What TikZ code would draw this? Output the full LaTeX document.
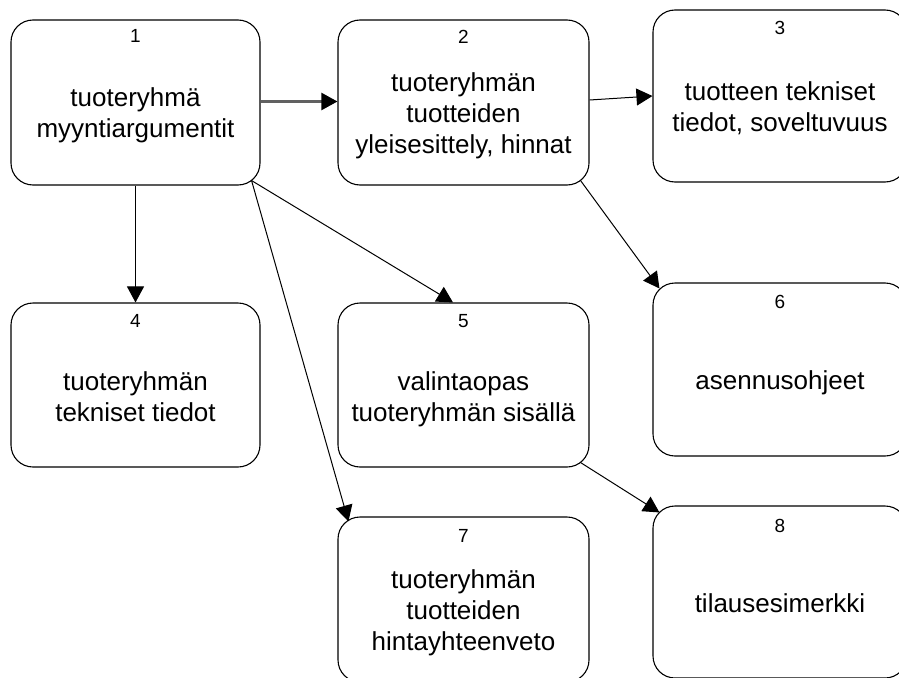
\documentclass[tikz,border=0pt]{standalone}
\usepackage{fontspec}
\setmainfont{Liberation Sans}
\usetikzlibrary{arrows.meta}
\begin{document}
\begin{tikzpicture}[x=1pt,y=-1pt,
  box/.style={draw=black, line width=1.1pt, rounded corners=22pt, inner sep=0pt},
  num/.style={font=\fontsize{19}{22}\selectfont, anchor=base, inner sep=0pt},
  txt/.style={font=\fontsize{26}{31}\selectfont, align=center, inner sep=0pt},
  tip/.style={-{Triangle[length=16pt,width=17pt,color=black]}},
  link/.style={draw=black, line width=1pt, tip},
  main link/.style={draw=black!62, line width=2.2pt, tip}]
\useasboundingbox (0,0) rectangle (899,677);
\clip (0,0) rectangle (899,677);

% boxes
\node[box, minimum width=249pt, minimum height=165pt] (b1) at (135.5,102.5) {};
\node[box, minimum width=251pt, minimum height=165pt] (b2) at (463.5,102.5) {};
\node[box, minimum width=254pt, minimum height=172pt] (b3) at (780,96) {};
\node[box, minimum width=249pt, minimum height=164pt] (b4) at (135.5,385) {};
\node[box, minimum width=251pt, minimum height=164pt] (b5) at (463.5,385) {};
\node[box, minimum width=254pt, minimum height=173pt] (b6) at (780,369.5) {};
\node[box, minimum width=251pt, minimum height=165pt] (b7) at (463.5,599.5) {};
\node[box, minimum width=254pt, minimum height=172pt] (b8) at (780,592) {};

% numbers
\node[num] (n1) at ([yshift=-23pt]b1.north) {1};
\node[num] (n2) at ([yshift=-24pt]b2.north) {2};
\node[num] (n3) at ([yshift=-25pt]b3.north) {3};
\node[num] (n4) at ([yshift=-25pt]b4.north) {4};
\node[num] (n5) at ([yshift=-25pt]b5.north) {5};
\node[num] (n6) at ([yshift=-26pt]b6.north) {6};
\node[num] (n7) at ([yshift=-26pt]b7.north) {7};
\node[num] (n8) at ([yshift=-27pt]b8.north) {8};

% texts
\node[txt, yshift=-13.25pt] (t1) at (b1) {tuoteryhmä\\myyntiargumentit};
\node[txt, yshift=-13.25pt] (t2) at (b2) {tuoteryhmän\\tuotteiden\\yleisesittely, hinnat};
\node[txt, yshift=-12.4pt] (t3) at (b3) {tuotteen tekniset\\tiedot, soveltuvuus};
\node[txt, yshift=-11.5pt] (t4) at (b4) {tuoteryhmän\\tekniset tiedot};
\node[txt, yshift=-14pt] (t5) at (b5) {valintaopas\\tuoteryhmän sisällä};
\node[txt, yshift=-13.75pt] (t6) at (b6) {asennusohjeet};
\node[txt, yshift=-13.25pt] (t7) at (b7) {tuoteryhmän\\tuotteiden\\hintayhteenveto};
\node[txt, yshift=-11.5pt] (t8) at (b8) {tilausesimerkki};

% connectors
\draw[main link] ([yshift=1pt]b1.east) -- ([yshift=1pt]b2.west);
\draw[link] ([yshift=2.5pt]b2.east) -- (b3.west);
\draw[link] (b1.south) -- (b4.north);
\draw[link] ([shift={(-9pt,5pt)}]b1.south east) -- ([xshift=-10.5pt]b5.north);
\draw[link] ([shift={(-9pt,5pt)}]b1.south east) -- ([shift={(11pt,-5pt)}]b7.north west);
\draw[link] ([shift={(-9pt,5pt)}]b2.south east) -- ([shift={(7pt,-6pt)}]b6.north west);
\draw[link] ([shift={(-9pt,5pt)}]b5.south east) -- ([shift={(7pt,-7pt)}]b8.north west);
\end{tikzpicture}
\end{document}
